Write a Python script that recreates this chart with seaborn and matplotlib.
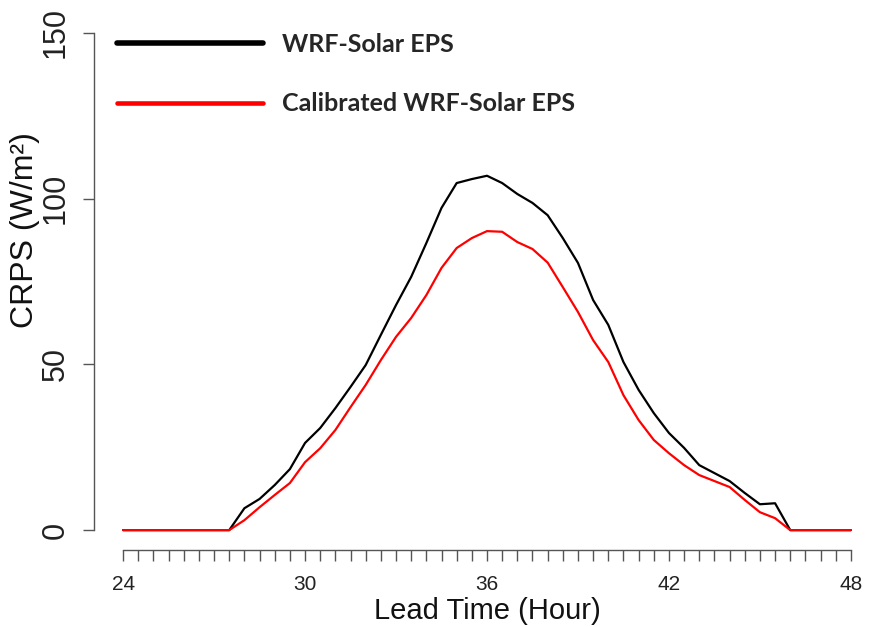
import matplotlib
matplotlib.use('Agg')
import numpy as np
import pandas as pd
import seaborn as sns
import matplotlib.pyplot as plt

# ---- data ----
hours = [24.0, 24.5, 25.0, 25.5, 26.0, 26.5, 27.0, 27.5, 28.0, 28.5, 29.0, 29.5,
         30.0, 30.5, 31.0, 31.5, 32.0, 32.5, 33.0, 33.5, 34.0, 34.5, 35.0, 35.5,
         36.0, 36.5, 37.0, 37.5, 38.0, 38.5, 39.0, 39.5, 40.0, 40.5, 41.0, 41.5,
         42.0, 42.5, 43.0, 43.5, 44.0, 44.5, 45.0, 45.5, 46.0, 46.5, 47.0, 47.5, 48.0]
wrf_eps = [0, 0, 0, 0, 0, 0, 0, 0,
           6.6, 9.4, 13.6, 18.4, 26.3, 30.8, 36.8, 43.2, 49.8, 58.9,
           67.9, 76.4, 86.6, 97.2, 104.7, 105.9, 106.9, 104.7, 101.4, 98.7,
           95.0, 88.1, 80.6, 69.4, 61.9, 50.7, 42.3, 35.3, 29.3, 24.8,
           19.6, 17.2, 14.8, 11.2, 7.8, 8.1,
           0, 0, 0, 0, 0]
calibrated = [0, 0, 0, 0, 0, 0, 0, 0,
              3.0, 6.9, 10.6, 14.2, 20.5, 24.7, 30.2, 37.1, 43.8, 51.3,
              58.3, 64.0, 70.9, 79.1, 85.1, 88.1, 90.2, 90.0, 86.9, 84.8,
              80.7, 73.3, 65.8, 57.3, 50.7, 40.7, 33.2, 27.2, 23.2, 19.6,
              16.6, 14.8, 13.0, 9.1, 5.4, 3.6,
              0, 0, 0, 0, 0]
series_names = ["WRF-Solar EPS", "Calibrated WRF-Solar EPS"]
series_colors = ["black", "red"]
yticks = [0, 50, 100, 150]
xlabels_at = [24, 30, 36, 42, 48]

df = pd.DataFrame({
    "hour": hours * 2,
    "crps": wrf_eps + calibrated,
    "series": [series_names[0]] * len(hours) + [series_names[1]] * len(hours),
})

sns.set_theme(style="white")
plt.rcParams['font.family'] = ['Liberation Sans', 'DejaVu Sans']

W, H = 870, 627
fig = plt.figure(figsize=(W / 100, H / 100), dpi=100)
ax = fig.add_axes([94 / W, 77 / H, 786 / W, 537 / H])

sns.lineplot(data=df, x="hour", y="crps", hue="series", hue_order=series_names,
             palette=dict(zip(series_names, series_colors)), linewidth=1.6,
             ax=ax, legend=True)

ax.set_xlim(23.04, 48.96)
ax.set_ylim(-6, 156)

for s in ["top", "right"]:
    ax.spines[s].set_visible(False)
ax.spines["left"].set_bounds(0, 150)
ax.spines["bottom"].set_bounds(24, 48)
for s in ["left", "bottom"]:
    ax.spines[s].set_color("#555555")
    ax.spines[s].set_linewidth(1.0)

ax.set_xticks(hours)
ax.set_xticklabels([str(int(h)) if h in xlabels_at else "" for h in hours], fontsize=15)
ax.set_yticks(yticks)
ax.set_yticklabels([str(v) for v in yticks], rotation=90, va="center", fontsize=22)
ax.tick_params(axis="both", which="major", bottom=True, left=True, direction="out",
               length=8, width=1, color="#555555", labelcolor="#222222")
ax.tick_params(axis="x", pad=10)
ax.tick_params(axis="y", pad=9)

ax.set_xlabel("Lead Time (Hour)", fontsize=21, color="#111111")
ax.set_ylabel("CRPS (W/m²)", fontsize=23, color="#111111")
ax.xaxis.set_label_coords(0.5, (550 - 611) / 537)
ax.xaxis.label.set_va("center")
ax.yaxis.set_label_coords((25 - 94) / 786, (550 - 230) / 537)
ax.yaxis.label.set_va("center")

handles, labels = ax.get_legend_handles_labels()
leg = ax.legend(handles, labels, loc="upper left",
                bbox_to_anchor=(117 / W, 1 - 33 / H), bbox_transform=fig.transFigure,
                frameon=False, borderpad=0, borderaxespad=0,
                handlelength=146 / 25, handletextpad=0.76, labelspacing=1.45,
                prop=dict(family="Lato", weight="bold", size=18))
for ln, lw in zip(leg.get_lines(), [4.0, 3.3]):
    ln.set_linewidth(lw)

fig.savefig("out.png", dpi=100)
